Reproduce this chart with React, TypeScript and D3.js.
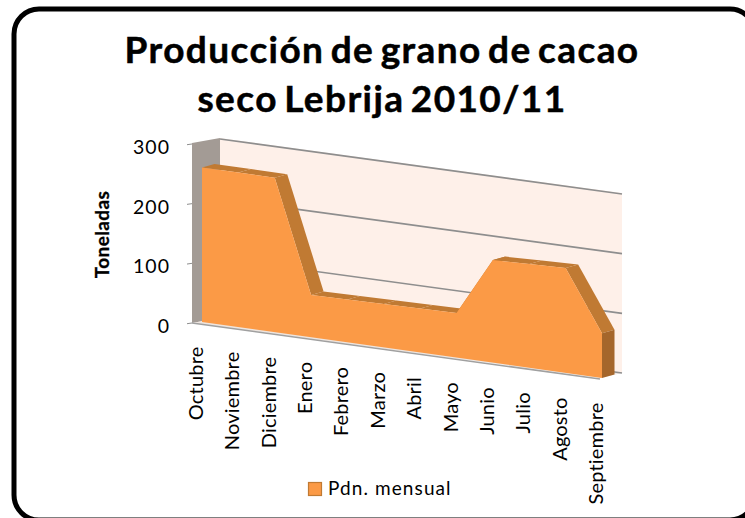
import React from "react";
import * as d3 from "d3";

const titleLines = ["Producción de grano de cacao", "seco Lebrija 2010/11"];
const categories = ["Octubre","Noviembre","Diciembre","Enero","Febrero","Marzo","Abril","Mayo","Junio","Julio","Agosto","Septiembre"];
const values = [259,259,259,71,72,73,74,75,172,174,176,75];
const yTicks = [0,100,200,300];
const seriesName = "Pdn. mensual";
const yTitle = "Toneladas";
const font = "Lato, 'Open Sans', sans-serif";

export default function App() {
  const x = d3.scaleLinear().domain([0, categories.length - 1]).range([202, 602]);
  const h = d3.scaleLinear().domain([0, 300]).range([0, 179]);
  const slope = 0.14;
  const base = (px: number) => 322 + (px - 202) * slope;
  const wallX = d3.scaleLinear().domain([0, 1]).range([220, 622]);
  const wallBase = (t: number) => 318 + t * 55;
  const depth = { dx: 12.5, dy: -3.5 };

  const top = values.map((v, i) => [x(i), base(x(i)) - h(v)] as [number, number]);
  const line = d3.line();
  const shift = (p: [number, number]): [number, number] => [p[0] + depth.dx, p[1] + depth.dy];
  const frontPts: [number, number][] = [...top, [x(11), base(x(11))], [x(0), base(x(0))]];

  const sideFaces = top.slice(0, -1).map((p, i) => {
    const q = top[i + 1];
    return line([p, q, shift(q), shift(p)])!;
  });
  const lastTop = top[top.length - 1];
  const lastBase: [number, number] = [x(11), base(x(11))];

  return (
    <svg width={745} height={518} style={{ position: "absolute", left: 0, top: 0 }}>
      <rect width={745} height={518} fill="#fff" />
      <rect x={14} y={9} width={741} height={511} rx={25} fill="#fff" stroke="#000" strokeWidth={5} />
      {titleLines.map((t, i) => (
        <text key={t} x={382} y={63 + i * 49} textAnchor="middle" fontFamily={font} fontWeight={700} fontSize={37} letterSpacing={1.4} wordSpacing={-4} stroke="#000" strokeWidth={0.5} fill="#000">{t}</text>
      ))}
      {/* walls */}
      <path d={line([[220,138],[622,193],[622,373],[220,318]])!} fill="#fef0e9" />
      <path d={line([[192,143],[220,138],[220,318],[192,323]])!} fill="#a39b95" />
      <path d={line([[192,323],[220,318],[622,373],[600,378]])!} fill="#eee5df" />
      <path d={line([[192,323],[600,379]])!} fill="none" stroke="#a0a0a0" strokeWidth={1.5} />
      {yTicks.map(v => {
        const dy = h(v);
        return (
          <g key={v}>
            <path d={line([[wallX(0), wallBase(0) - dy],[wallX(1), wallBase(1) - dy]])!} stroke="#8e8e8e" strokeWidth={1.6} fill="none" />
            <path d={line([[187, 323 - dy + 0.7],[192, 323 - dy]])!} stroke="#8e8e8e" strokeWidth={1} fill="none" />
            <text x={170} y={333 - dy} textAnchor="end" fontFamily={font} fontSize={19.5} letterSpacing={1} fill="#000">{v}</text>
          </g>
        );
      })}
      {/* series */}
      {sideFaces.map((d, i) => (
        <path key={i} d={d} fill="#c07a33" />
      ))}
      <path d={line([lastTop, shift(lastTop), shift(lastBase), lastBase])!} fill="#a5662b" />
      <path d={line(frontPts)! + "Z"} fill="#fb9a46" />
      {categories.map((c, i) => {
        const px = x(i) + 1;
        const py = base(x(i)) + 24.5;
        return (
          <text key={c} transform={`translate(${px},${py}) rotate(-90)`} textAnchor="end" fontFamily={font} fontSize={20} letterSpacing={0.2} fill="#000">{c}</text>
        );
      })}
      <text transform="translate(109,234.5) rotate(-90)" textAnchor="middle" fontFamily={font} fontWeight={700} fontSize={19} letterSpacing={0.4} stroke="#000" strokeWidth={0.3} fill="#000">{yTitle}</text>
      <rect x={308.5} y={482.5} width={13} height={13} fill="#fb9a46" stroke="#c07a33" strokeWidth={1.2} />
      <text x={328} y={495} fontFamily={font} fontSize={19} letterSpacing={1.1} fill="#000">{seriesName}</text>
    </svg>
  );
}
